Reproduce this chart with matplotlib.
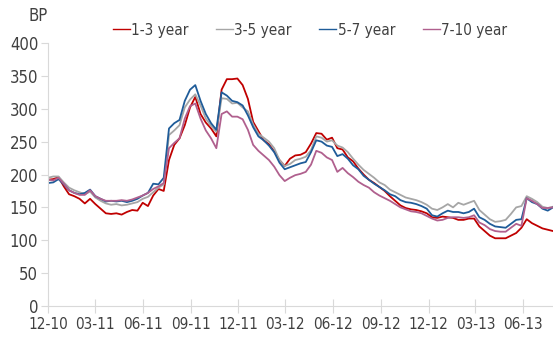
import numpy as np
import pandas as pd
import matplotlib as mpl
from matplotlib import pyplot as plt

mpl.rcParams.update({'font.size': 11,
                     'font.family': ['DejaVu Sans'],
                     'font.stretch': 'condensed',
                     'text.color': '#404040',
                     'xtick.color': '#404040',
                     'ytick.color': '#404040'})

# spreads in BP, read roughly every 10 days from 2010-12-01 to 2013-07-28
y1_3 = [192, 193, 196, 182, 170, 167, 163, 156, 163, 155,
        148, 141, 140, 141, 139, 143, 146, 145, 157, 152,
        168, 178, 175, 222, 245, 255, 275, 302, 318, 292,
        279, 270, 258, 329, 345, 345, 346, 336, 315, 280,
        266, 252, 246, 235, 222, 213, 224, 229, 230, 234,
        247, 263, 262, 253, 256, 240, 238, 226, 220, 209,
        200, 192, 187, 181, 175, 167, 160, 153, 149, 147,
        146, 144, 141, 135, 134, 136, 135, 134, 131, 131,
        133, 133, 121, 114, 107, 103, 103, 103, 107, 111,
        119, 132, 126, 122, 118, 116, 114]
y3_5 = [195, 197, 197, 188, 180, 176, 173, 170, 174, 165,
        160, 156, 154, 155, 153, 154, 156, 158, 163, 166,
        173, 180, 185, 260, 267, 275, 302, 314, 322, 305,
        285, 274, 265, 316, 315, 308, 309, 302, 296, 276,
        262, 256, 250, 240, 222, 213, 216, 222, 224, 227,
        237, 258, 256, 250, 252, 244, 241, 234, 224, 215,
        207, 201, 195, 188, 184, 177, 173, 169, 165, 163,
        161, 158, 154, 148, 146, 150, 155, 150, 157, 154,
        157, 160, 146, 139, 132, 128, 129, 131, 140, 150,
        152, 167, 163, 158, 151, 149, 151]
y5_7 = [187, 188, 193, 185, 176, 172, 170, 172, 177, 167,
        163, 159, 160, 159, 160, 158, 160, 163, 168, 172,
        186, 185, 195, 270, 278, 283, 312, 329, 336, 312,
        292, 278, 268, 325, 320, 312, 310, 305, 290, 272,
        258, 252, 244, 234, 218, 208, 211, 214, 217, 219,
        234, 252, 250, 244, 242, 228, 231, 224, 214, 208,
        198, 192, 186, 181, 176, 170, 167, 161, 158, 157,
        155, 152, 148, 138, 136, 141, 145, 143, 143, 141,
        143, 148, 135, 131, 125, 121, 120, 119, 125, 131,
        132, 164, 158, 155, 148, 145, 150]
y7_10 = [192, 191, 195, 186, 176, 172, 169, 169, 176, 167,
         163, 160, 160, 160, 161, 160, 162, 165, 168, 172,
         178, 182, 187, 240, 248, 255, 285, 304, 308, 285,
         267, 255, 240, 292, 296, 288, 288, 284, 268, 245,
         236, 229, 222, 212, 199, 190, 195, 199, 201, 204,
         215, 236, 233, 226, 222, 204, 210, 202, 196, 189,
         184, 180, 173, 168, 164, 160, 155, 150, 147, 144,
         143, 141, 137, 133, 130, 131, 134, 135, 135, 134,
         135, 138, 127, 123, 117, 114, 113, 113, 119, 125,
         122, 164, 160, 155, 149, 149, 150]

dates = pd.date_range('2010-12-01', '2013-07-28', periods=len(y1_3))
tick_dates = pd.date_range('2010-12-01', '2013-06-01', freq='3MS')
tick_labels = [d.strftime('%m-%y') for d in tick_dates]

fig = plt.figure(figsize=(5.53, 3.38), dpi=100)
ax = fig.add_axes([48 / 553, 1 - 306 / 338, 1 - 48 / 553, 263 / 338])

ax.plot(dates, y1_3, color='#C00000', linewidth=1.3, label='1-3 year')
ax.plot(dates, y3_5, color='#A6A6A6', linewidth=1.3, label='3-5 year')
ax.plot(dates, y5_7, color='#1F5C99', linewidth=1.3, label='5-7 year')
ax.plot(dates, y7_10, color='#B0608E', linewidth=1.3, label='7-10 year')

ax.set_xlim(dates[0], dates[-1])
ax.set_ylim(0, 400)
ax.set_yticks(range(0, 401, 50))
ax.set_xticks(tick_dates)
ax.set_xticklabels(tick_labels)

for s in ['top', 'right']:
    ax.spines[s].set_visible(False)
ax.spines['left'].set_color('#D9D9D9')
ax.spines['bottom'].set_color('#D9D9D9')
ax.tick_params(axis='y', length=5, color='#D9D9D9', labelsize=12, pad=2)
ax.tick_params(axis='x', direction='inout', length=10, color='#D9D9D9', labelsize=11, pad=3)

fig.text(38 / 553, 1 - 16 / 338, 'BP', ha='center', va='center', fontsize=12)
leg = fig.legend(loc='center', bbox_to_anchor=(310 / 553, 1 - 30 / 338), ncol=4, frameon=False,
                 handlelength=1.1, handletextpad=0.1, columnspacing=1.8, fontsize=11)
for h in leg.get_lines():
    h.set_linewidth(1.0)

plt.savefig('out.png', dpi=100)
plt.close()
